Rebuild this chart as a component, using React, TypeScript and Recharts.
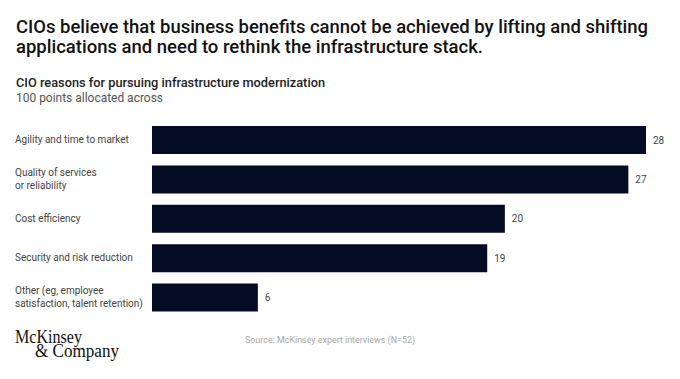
import { BarChart, Bar, XAxis, YAxis, LabelList } from "recharts"

const categories = [
  "Agility and time to market",
  "Quality of services\nor reliability",
  "Cost efficiency",
  "Security and risk reduction",
  "Other (eg, employee\nsatisfaction, talent retention)",
]
const points = [28, 27, 20, 19, 6]

const data = categories.map((reason, i) => ({ reason, points: points[i] }))

const sans = "Roboto, 'Liberation Sans', sans-serif"

function ReasonTick(props: any) {
  const { y, payload } = props
  const lines: string[] = String(payload.value).split("\n")
  const start = -((lines.length - 1) * 13) / 2
  return (
    <text x={15} y={y} textAnchor="start" fontFamily={sans} fontSize={10} fill="#444">
      {lines.map((l, i) => (
        <tspan key={i} x={15} dy={i === 0 ? start + 3.5 : 13}>
          {l}
        </tspan>
      ))}
    </text>
  )
}

export default function App() {
  return (
    <div style={{ position: "relative", width: 680, height: 379, background: "#fff", overflow: "hidden" }}>
      <style>{`body{margin:0}`}</style>

      <BarChart
        width={680}
        height={379}
        data={data}
        layout="vertical"
        margin={{ top: 120, right: 34, bottom: 62, left: 0 }}
        barCategoryGap={11}
      >
        <XAxis type="number" domain={[0, 28]} hide />
        <YAxis
          type="category"
          dataKey="reason"
          width={152}
          axisLine={false}
          tickLine={false}
          tick={<ReasonTick />}
          interval={0}
        />
        <Bar dataKey="points" fill="#030c24" barSize={28} isAnimationActive={false}>
          <LabelList dataKey="points" position="right" offset={7} fill="#444" fontSize={10} fontFamily={sans} />
        </Bar>
      </BarChart>

      <svg width={680} height={379} style={{ position: "absolute", left: 0, top: 0, pointerEvents: "none" }}>
        <g fontFamily={sans} fill="#121212" fontWeight={500} fontSize={18}>
          <text x={16} y={33} textLength={632} lengthAdjust="spacingAndGlyphs">
            CIOs believe that business benefits cannot be achieved by lifting and shifting
          </text>
          <text x={16} y={53} textLength={467} lengthAdjust="spacingAndGlyphs">
            applications and need to rethink the infrastructure stack.
          </text>
        </g>
        <text x={16} y={87} fontFamily={sans} fontSize={13} fontWeight={500} fill="#222" textLength={309} lengthAdjust="spacingAndGlyphs">
          CIO reasons for pursuing infrastructure modernization
        </text>
        <text x={16} y={102} fontFamily={sans} fontSize={13} fill="#555" textLength={147} lengthAdjust="spacingAndGlyphs">
          100 points allocated across
        </text>
        <text x={245} y={343} fontFamily={sans} fontSize={9.5} fill="#a8a8a8" textLength={170} lengthAdjust="spacingAndGlyphs">
          Source: McKinsey expert interviews (N=52)
        </text>
        <g fontFamily="'Liberation Serif', 'DejaVu Serif', serif" fontSize={18} fill="#111">
          <text x={15} y={343} textLength={67} lengthAdjust="spacingAndGlyphs">McKinsey</text>
          <text x={35} y={357} textLength={84} lengthAdjust="spacingAndGlyphs">&amp; Company</text>
        </g>
      </svg>
    </div>
  )
}
